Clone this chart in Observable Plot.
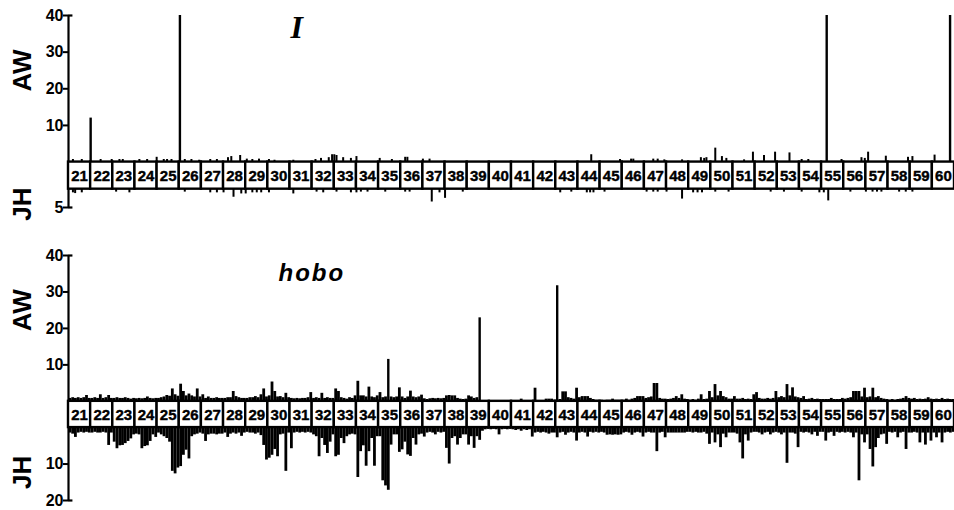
<!DOCTYPE html>
<html><head><meta charset="utf-8">
<script src="https://cdn.jsdelivr.net/npm/d3@7"></script>
<script src="https://cdn.jsdelivr.net/npm/@observablehq/plot@0.6"></script>
<style>
html,body{margin:0;padding:0;background:#fff;}
#chart{width:954px;height:510px;overflow:hidden;background:#fff;}
#chart svg{display:block;}
#chart svg text{font-weight:bold;}
#chart svg text.seg{font-size:15px;letter-spacing:-0.5px;}
#chart svg text.tick{font-size:16px;letter-spacing:1px;}
</style></head>
<body><div id="chart"></div>
<script>
// ---- categories (cytological divisions) ----
const segments = [21,22,23,24,25,26,27,28,29,30,31,32,33,34,35,36,37,38,39,40,
                  41,42,43,44,45,46,47,48,49,50,51,52,53,54,55,56,57,58,59,60];

// ---- tick labels ----
const awTicks = [10, 20, 30, 40];
const iJHTicks = [5];
const hoboJHTicks = [10, 20];
const panelTitles = ["I", "hobo"];

// ---- I element: AW (upward) hybridisation signals ----
const iAWpos = [21.2,21.6,22.0,22.45,22.95,23.3,23.45,24.2,24.55,24.98,25.3,25.45,25.65,26.03,26.25,26.55,26.9,
  27.4,27.7,28.2,28.35,28.75,29.05,29.3,29.6,30.05,30.3,31.15,32.15,32.4,32.75,32.9,33.0,33.1,33.4,33.75,34.0,
  35.05,35.6,36.2,36.3,37.0,37.3,44.6,45.9,46.4,46.5,47.4,47.6,47.9,48.7,49.55,49.7,49.8,50.2,50.5,50.7,51.5,
  51.9,52.4,52.9,53.55,54.1,54.4,55.23,55.9,56.8,56.95,57.1,57.9,58.9,59.1,60.1,60.8];
const iAWval = [0.7,0.7,12,0.7,0.7,0.7,0.7,0.7,0.7,1.3,0.7,0.7,0.7,40,0.7,0.7,0.5,
  0.7,0.7,1.2,1.5,1.8,0.8,0.7,0.8,0.7,0.5,0.5,0.7,1,1.2,2,2,1.8,1.2,1,1.5,
  1,0.7,1.3,1.3,0.8,0.8,2,0.7,0.8,0.8,0.8,0.8,0.6,0.6,1.2,1,1.2,3.8,1.5,1,0.6,
  2.7,1.8,2.7,2.5,0.7,0.7,40,0.7,1.2,1.0,2.7,1.6,1.3,1.5,1.9,40];

// ---- I element: JH (downward) signals ----
const iJHpos = [21.2,21.3,21.6,23.15,23.75,26.25,27.4,27.7,28.0,28.45,28.8,29.0,29.3,29.5,29.7,30.05,31.15,
  32.2,32.5,33.1,33.75,34.0,34.2,34.5,35.3,36.2,36.4,37.4,37.75,38.0,38.8,43.2,43.7,44.4,44.55,44.7,45.2,
  47.1,47.4,47.6,48.0,48.7,49.2,49.4,49.6,50.2,50.8,52.7,53.3,54.1,54.9,55.1,55.3,56.3,57.0,57.3,57.5,57.7,
  58.5,58.8,59.1];
const iJHval = [1,1.2,1,0.8,1,0.8,1,1,1,2.2,1.3,1.3,1,1,1,1,1.3,
  0.8,1,0.8,1,1,0.8,0.8,0.8,0.8,0.8,3.5,1,2.5,0.8,1,0.8,1,1,1,0.8,
  0.8,0.8,0.8,0.8,2.7,1,1,1,0.8,0.8,0.8,0.8,0.8,1,1,3.2,0.8,0.8,0.8,0.8,0.8,
  0.8,0.8,0.8];

// ---- hobo element: AW, eight sub-bands per division ----
const hoboAW = [
  [0.8,1,0.8,1,0.8,1,1.6,0.8],[0.8,1,0.8,1.8,0.8,1,1.6,0.8],[0.8,1,0.8,0.8,1,0.8,0.6,0.8],[0.7,0.8,0.7,0.8,1.2,0.8,0.7,0.8],
  [0.8,1,1.2,1.6,1.4,3.4,1.8,1.4],[4.7,2.7,1.5,2,1.5,1.2,3.4,1.2],[1.8,0.8,1.2,0.8,0.8,1,0.8,0.8],[0.8,1,1,2.7,1.3,1,0.8,0.8],
  [0.8,1,1,1.3,1,1.8,3.4,1.2],[1.5,5.3,2.7,1.2,1.3,1,2.2,1],[0.8,0.7,0.8,0.7,0.8,0.8,1,2.4],[0.8,1,0.8,2.2,0.8,1,0.8,0.8],
  [3.4,2.7,1,0.8,0.6,1,0.8,1.5],[5.5,1.5,1.5,1.2,3.9,1.2,1,1.5],[2.4,1,1.2,11.5,1.2,1,1.2,3.7],[1.2,0.8,1.2,2.8,1.2,1,1.2,1.7],
  [0.7,0.5,0.7,0.8,0.7,0.8,0.7,0.8],[1.5,1.6,1.5,1.5,0.8,0.6,0.5,0.6],[1.5,1.2,0.8,1,22.9,0,0,0],[0,0,0,0,0,0,0,0],
  [0,0,0,0.6,0,0,0,0],[3.6,0,0,0,0.6,0.6,0.6,0.3],[31.7,0.5,2.6,2.6,1,0.8,0.6,3.6],[1,1.3,1.3,1.3,0.8,0.5,0.3,0.3],
  [0.3,0,0.3,0.3,0.6,0.3,0.3,0.3],[0.3,0.6,0.3,0.6,0.8,1.3,1.3,1.3],[0.8,1,1.2,4.9,4.9,0.8,0.6,0.6],[0.5,0.6,0.8,1.3,0.8,1.8,0.6,0.5],
  [0.3,0.5,0.3,0.6,1.8,0.5,0.6,2.7],[1,4.6,1.5,2.7,1.3,1,0.6,0.6],[1.3,0.6,0.6,0.8,0.5,0.6,0.5,1.8],[2.4,0.8,0.6,0.6,0.8,0.6,0.8,2.7],
  [1,1.3,1,4.6,1.5,3.7,1.2,1],[0.8,1.3,0.5,0.6,0.8,0.5,0.6,0.5],[0.5,0.5,0.5,0.8,0.5,0.5,0.5,0.8],[0.6,0.8,1,2.7,2.7,2.7,1.2,3.6],
  [1,1.2,3.6,1,1.3,0.8,0.6,0.5],[0.3,0.5,0.3,0.5,0.6,0.8,1.3,0.8],[0.6,0.8,0.5,0.6,0.5,0.6,1,0.6],[0.5,0.6,0.5,0.8,0.5,0.6,0.5,0.5]
];

// ---- hobo element: JH ----
const hoboJH = [
  [1.5,1.8,2.7,1.5,1.3,1.5,1.3,1.5],[1.5,1.3,1.5,1.5,1.3,1.5,4.9,1.5],[4,5.8,5,4.9,4.4,3.8,3.1,2],[1.8,2,5.8,5.2,5,3.8,2,2.7],
  [1.5,2,2.5,3,4,12,12.7,11.1],[10.7,7.6,6.2,8.6,2.5,2,1.8,1.5],[1.8,3.8,2,1.8,1.8,2,1.8,1.8],[1.5,2.7,1.8,1.5,1.8,1.5,2.4,1.5],
  [1.3,1.5,1.5,1.8,1.5,2.2,4.9,8.9],[8.4,7.6,6,8,2,1.8,12,1.5],[5.8,1.5,1.3,1.5,1.3,1.5,1.3,1.5],[2,2.5,8,3,4.9,7.1,4,2],
  [8,7.6,3,4.4,2.5,2,1.8,2],[13.7,6.6,5,10.6,6.6,3,10.6,2.5],[2.5,14.6,16,17.2,4.8,2,2,6.8],[6.1,4,7.5,7.9,3,4.8,2,1.8],
  [2.6,1.5,1.3,1.5,2,1.3,1.5,1.3],[5.7,10,3,2.5,4.8,3,2,2],[4.8,2.5,5.7,2.5,3.5,1,0.6,0.5],[0.6,0.5,0.6,2,0.6,0.5,0.6,0.5],
  [0.6,0.8,0.6,1,0.6,0.8,0.6,2.6],[1.5,1.3,1.5,1.3,1.5,1.8,1.5,1.5],[2.8,1.5,1.3,2.1,1.5,1.3,1.5,3.7],[1.5,1.3,1.5,2.6,1.3,1.5,1.3,1.5],
  [1.3,1.5,2.1,2,2.1,2,2.1,2],[1.5,1.3,1.5,2.1,1.5,1.3,1.5,2.6],[1.5,1.3,1.5,1.5,6.6,1.5,1.3,2.8],[1.5,1.5,1.5,1.5,1.5,1.5,1.5,1.3],
  [1.3,1.5,1.3,1.5,1.5,1.3,1.8,4.6],[1.5,4.2,2,5.5,1.8,2.8,1.5,1.5],[1.5,1.8,4.2,8.6,2,3.7,1.5,1.3],[1.3,1.5,2,1.5,1.3,2,1.5,1.3],
  [1.5,2,1.5,9.8,1.5,1.5,1.8,5.5],[1.3,1.5,1.3,1.5,2,1.3,2.4,1.3],[1.3,3.7,1.5,1.3,2.4,1.3,1.5,1.3],[1.5,1.3,1.5,2.8,1.5,14.6,2,4.2],
  [2,6,10.8,5.5,3,2,1.8,4.6],[1.3,1.5,1.3,2.8,1.5,1.3,6,1.5],[1.5,1.3,1.5,4.2,1.5,4.8,1.5,3.7],[1.5,2.8,1.5,4.2,1.5,1.3,1.5,1.3]
];

// ---- build tables ----
const pairs = (pos, val) => pos.map((x, i) => ({x, v: val[i]}));
const binned = rows => rows.flatMap((vals, s) => vals.map((v, i) => ({x: segments[s] + (i + 0.5) / vals.length, v})));

const FONT = "'Liberation Sans', Arial, Helvetica, sans-serif";

function panel({height, marginBottom, band, jhMax, aw, jh, jhTicks, title, titleFont, titleDx, titleDy, jhLabelY, barWidth, spikeWidth}) {
  const x0 = segments[0], x1 = segments[segments.length - 1] + 1;
  const jhY = jhTicks.map(t => ({t, y: -band - t}));
  return Plot.plot({
    width: 954, height, marginLeft: 68, marginRight: 0, marginTop: 15, marginBottom,
    x: {domain: [x0, x1], axis: null},
    y: {domain: [-band - jhMax, 40], axis: null},
    style: {fontFamily: FONT, fontSize: "14px", fontWeight: "bold", background: "white", overflow: "visible"},
    marks: [
      Plot.ruleX(aw, {x: "x", y1: 0, y2: "v", stroke: "black", strokeWidth: d => d.v > 8 ? spikeWidth : barWidth}),
      Plot.ruleX(jh, {x: "x", y1: -band, y2: d => -band - d.v, stroke: "black", strokeWidth: barWidth}),
      Plot.rect(segments, {x1: d => d, x2: d => d + 1, y1: -band, y2: 0, fill: "white", stroke: "black", strokeWidth: 2.4}),
      Plot.text(segments, {x: d => d + 0.5, y: -band / 2, text: d => String(d), fontSize: 15, fontWeight: "bold",
        fill: "black", stroke: "black", strokeWidth: 0.4, dy: 1, className: "seg"}),
      // axis lines
      Plot.ruleX([x0], {y1: 0, y2: 40, stroke: "black", strokeWidth: 2.2}),
      Plot.ruleX([x0], {y1: -band, y2: -band - jhMax, stroke: "black", strokeWidth: 2.2}),
      Plot.ruleY([40, -band - jhMax], {x1: x0, x2: x0 + 0.2, stroke: "black", strokeWidth: 2.2}),
      // ticks
      Plot.axisY(awTicks, {tickSize: 5, strokeWidth: 2, tickFormat: () => "", label: null}),
      Plot.axisY(jhY.map(d => d.y), {tickSize: 5, strokeWidth: 2, tickFormat: () => "", label: null}),
      // tick labels
      Plot.text(awTicks, {frameAnchor: "left", y: d => d, dx: -5, textAnchor: "end", text: d => String(d),
        fontSize: 16, fontWeight: "bold", fill: "black", className: "tick"}),
      Plot.text(jhY, {frameAnchor: "left", y: "y", dx: -5, textAnchor: "end", text: d => String(d.t),
        fontSize: 16, fontWeight: "bold", fill: "black", className: "tick"}),
      // axis titles
      Plot.text(["AW"], {frameAnchor: "left", y: 25, dx: -46, rotate: -90, textAnchor: "middle", fontSize: 26, fontWeight: "bold", fill: "black"}),
      Plot.text(["JH"], {frameAnchor: "left", y: jhLabelY, dx: -46, rotate: -90, textAnchor: "middle", fontSize: 26, fontWeight: "bold", fill: "black"}),
      // panel title
      Plot.text([title], {frameAnchor: "top-left", dx: titleDx, dy: titleDy, textAnchor: "start", lineAnchor: "bottom",
        fontFamily: titleFont.family, fontSize: titleFont.size, fontStyle: "italic", fontWeight: "bold", fill: "black"})
    ]
  });
}

const topPanel = panel({
  height: 240, marginBottom: 33, band: 7.4, jhMax: 5,
  aw: pairs(iAWpos, iAWval), jh: pairs(iJHpos, iJHval), jhTicks: iJHTicks,
  title: panelTitles[0], titleFont: {family: "'Liberation Serif', 'DejaVu Serif', serif", size: 32},
  titleDx: 222, titleDy: 22, jhLabelY: -11.5, barWidth: 2, spikeWidth: 2.4
});
const bottomPanel = panel({
  height: 270, marginBottom: 10, band: 7.2, jhMax: 20,
  aw: binned(hoboAW), jh: binned(hoboJH), jhTicks: hoboJHTicks,
  title: panelTitles[1], titleFont: {family: FONT, size: 24},
  titleDx: 210, titleDy: 25, jhLabelY: -19.5, barWidth: 2.8, spikeWidth: 2.4
});
const root = document.getElementById("chart");
root.appendChild(topPanel);
root.appendChild(bottomPanel);
bottomPanel.querySelectorAll("text").forEach(t => { if (t.textContent === "hobo") t.setAttribute("letter-spacing", "2"); });
</script>
</body></html>
